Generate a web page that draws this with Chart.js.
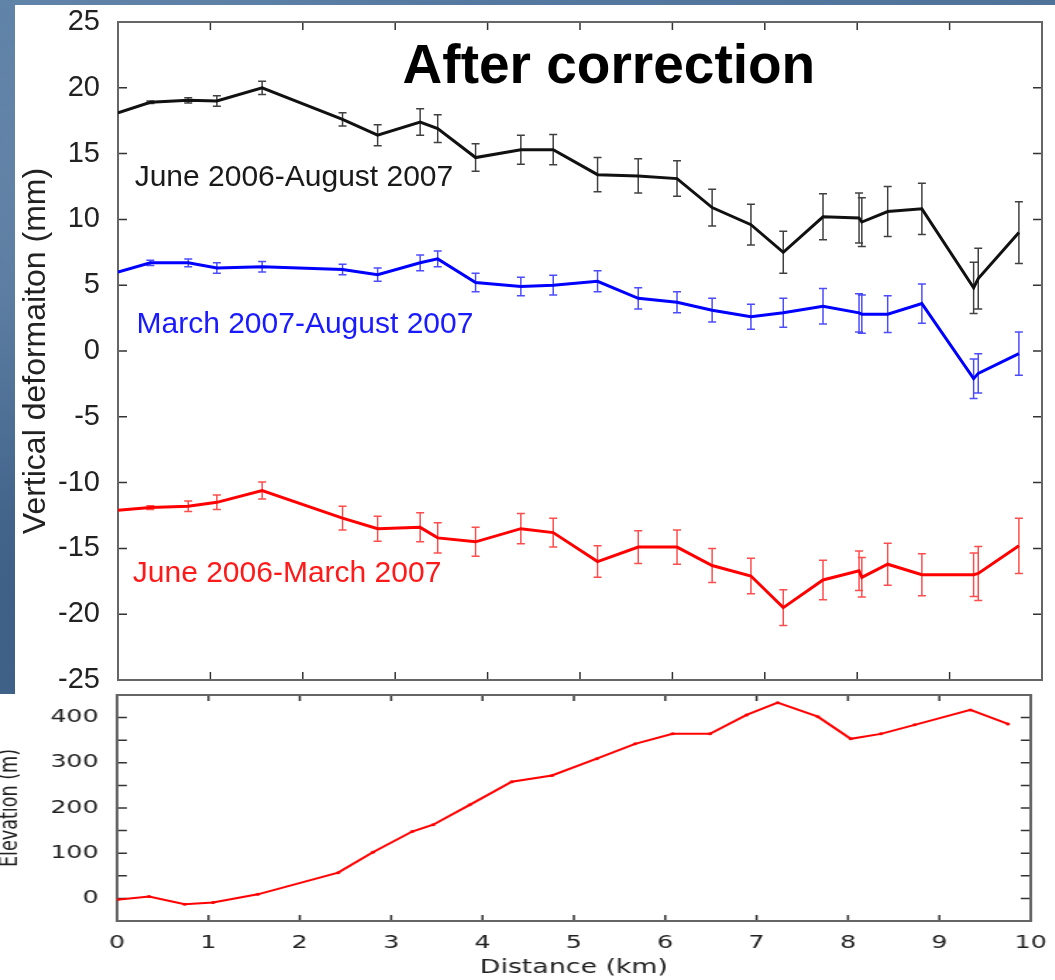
<!DOCTYPE html>
<html lang="en">
<head>
	<meta charset="UTF-8">
	<title>After correction</title>
	<style>
		body {
			margin: 0;
			width: 1055px;
			height: 980px;
			overflow: hidden;
			position: relative;
			background:
				radial-gradient(ellipse at 10% 20%, rgba(255,255,255,0.10), rgba(255,255,255,0) 30%),
				radial-gradient(ellipse at 5% 60%, rgba(20,40,80,0.18), rgba(20,40,80,0) 35%),
				linear-gradient(160deg, #5a7ea5 0%, #45698f 50%, #557aa0 100%);
		}
		.panel { position: absolute; background: #fff; }
		#panelTop { left: 15px; top: 5px; width: 1040px; height: 975px; }
		#panelBot { left: 0; top: 694px; width: 1055px; height: 286px; }
		#upper { position: absolute; left: 15px; top: 5px; }
		/* the elevation strip in the source is stretched sideways */
		#lowerWrap { position: absolute; left: 0; top: 690px; width: 748px; height: 290px; transform-origin: 0 0; transform: scaleX(1.41); }
	</style>
</head>
<body>
	<div class="panel" id="panelTop"></div>
	<div class="panel" id="panelBot"></div>
	<canvas id="upper" width="1040" height="689"></canvas>
	<div id="lowerWrap"><canvas id="lower" width="748" height="290"></canvas></div>

	<script src="https://cdn.jsdelivr.net/npm/chart.js@4.4.1/dist/chart.umd.min.js"></script>
	<script type="text/javascript">
	// distance along profile (km), shared by the three deformation series
	var distKm = [0, 0.35, 0.76, 1.07, 1.56, 2.43, 2.81, 3.27, 3.46, 3.87, 4.36, 4.71, 5.19, 5.63, 6.05, 6.43, 6.85, 7.2, 7.63, 8.02, 8.05, 8.33, 8.7, 9.26, 9.31, 9.75];

	// June 2006-August 2007 (mm)
	var junAug = [18.1, 18.9, 19.05, 19.0, 20.0, 17.6, 16.4, 17.4, 16.9, 14.7, 15.3, 15.3, 13.4, 13.3, 13.1, 10.9, 9.6, 7.5, 10.2, 10.1, 9.8, 10.6, 10.8, 4.8, 5.5, 9.0];
	var junAugErr = [0, 0.1, 0.2, 0.4, 0.5, 0.5, 0.8, 1.0, 1.05, 1.05, 1.1, 1.15, 1.3, 1.3, 1.35, 1.4, 1.55, 1.6, 1.75, 1.9, 1.85, 1.9, 1.95, 1.95, 2.3, 2.35];

	// March 2007-August 2007 (mm)
	var marAug = [6.0, 6.7, 6.7, 6.3, 6.4, 6.2, 5.8, 6.7, 7.0, 5.2, 4.9, 5.0, 5.3, 4.0, 3.7, 3.1, 2.6, 2.9, 3.4, 2.9, 2.8, 2.8, 3.6, -2.1, -1.7, -0.2];
	var marAugErr = [0, 0.2, 0.3, 0.4, 0.4, 0.4, 0.5, 0.6, 0.6, 0.7, 0.7, 0.75, 0.8, 0.8, 0.8, 0.9, 0.95, 1.1, 1.35, 1.45, 1.45, 1.4, 1.5, 1.5, 1.5, 1.65];

	// June 2006-March 2007 (mm)
	var junMar = [-12.1, -11.9, -11.8, -11.5, -10.6, -12.7, -13.5, -13.4, -14.2, -14.5, -13.5, -13.8, -16.0, -14.9, -14.9, -16.3, -17.1, -19.5, -17.4, -16.7, -17.2, -16.2, -17.0, -17.0, -16.9, -14.8];
	var junMarErr = [0, 0.15, 0.4, 0.55, 0.65, 0.9, 0.95, 1.1, 1.15, 1.1, 1.15, 1.1, 1.2, 1.25, 1.3, 1.3, 1.35, 1.35, 1.5, 1.5, 1.5, 1.6, 1.6, 1.65, 2.05, 2.1];

	// elevation profile
	var elevKm = [0, 0.35, 0.74, 1.05, 1.54, 2.42, 2.80, 3.23, 3.46, 3.86, 4.32, 4.76, 5.25, 5.67, 6.08, 6.49, 6.89, 7.23, 7.67, 8.03, 8.36, 8.73, 9.34, 9.75];
	var elevM = [-3, 4, -13, -9, 9, 57, 102, 148, 163, 207, 258, 272, 309, 342, 364, 364, 406, 433, 402, 353, 364, 384, 417, 386];

	// tick values and labels
	var deformTicks = [-25, -20, -15, -10, -5, 0, 5, 10, 15, 20, 25];
	var elevTicks = [-50, 0, 50, 100, 150, 200, 250, 300, 350, 400, 450];
	var elevLabels = [0, 100, 200, 300, 400];
	var distTicks = [0, 1, 2, 3, 4, 5, 6, 7, 8, 9, 10];

	// text written inside the upper plot, anchored in data units
	var notes = [
		{ text: 'After correction', x: 3.08, y: 20.36, color: '#000', font: 'bold 55px "Liberation Sans", Arial, sans-serif' },
		{ text: 'June 2006-August 2007', x: 0.18, y: 12.55, color: '#1a1a1a', font: '30px "Liberation Sans", Arial, sans-serif' },
		{ text: 'March 2007-August 2007', x: 0.2, y: 1.35, color: '#1a1aff', font: '30px "Liberation Sans", Arial, sans-serif' },
		{ text: 'June 2006-March 2007', x: 0.16, y: -17.55, color: '#ff1a1a', font: '30px "Liberation Sans", Arial, sans-serif' }
	];

	Chart.defaults.color = '#222';

	function asTicks(list) {
		return function (s) { s.ticks = list.map(function (v) { return { value: v }; }); };
	}

	// box round the plot + small ticks pointing inwards on all four sides
	var frameTicks = {
		id: 'frameTicks',
		beforeDatasetsDraw: function (chart, args, opts) {
			var ctx = chart.ctx, a = chart.chartArea, x = chart.scales.x, y = chart.scales.y;
			ctx.save();
			ctx.strokeStyle = '#333';
			ctx.lineWidth = 1.5;
			ctx.beginPath();
			x.ticks.forEach(function (t) {
				if (t.value <= x.min || t.value >= x.max) return;
				var px = x.getPixelForValue(t.value);
				ctx.moveTo(px, a.top); ctx.lineTo(px, a.top + opts.xLen);
				ctx.moveTo(px, a.bottom); ctx.lineTo(px, a.bottom - opts.xLen);
			});
			y.ticks.forEach(function (t) {
				if (t.value <= y.min || t.value >= y.max) return;
				var py = y.getPixelForValue(t.value);
				ctx.moveTo(a.left, py); ctx.lineTo(a.left + opts.yLen, py);
				ctx.moveTo(a.right, py); ctx.lineTo(a.right - opts.yLen, py);
			});
			ctx.stroke();
			ctx.strokeStyle = '#666';
			ctx.lineWidth = 2;
			ctx.strokeRect(a.left, a.top, a.right - a.left, a.bottom - a.top);
			ctx.restore();
		}
	};

	var errBars = {
		id: 'errBars',
		beforeDatasetsDraw: function (chart) {
			var ctx = chart.ctx, y = chart.scales.y;
			ctx.save();
			ctx.lineWidth = 1.5;
			chart.data.datasets.forEach(function (ds, i) {
				if (!ds.err) return;
				var meta = chart.getDatasetMeta(i);
				ctx.strokeStyle = ds.errColor;
				ctx.beginPath();
				meta.data.forEach(function (pt, j) {
					var e = ds.err[j];
					if (!e) return;
					var v = ds.data[j].y;
					var t = y.getPixelForValue(v + e), b = y.getPixelForValue(v - e);
					ctx.moveTo(pt.x, t); ctx.lineTo(pt.x, b);
					ctx.moveTo(pt.x - 4, t); ctx.lineTo(pt.x + 4, t);
					ctx.moveTo(pt.x - 4, b); ctx.lineTo(pt.x + 4, b);
				});
				ctx.stroke();
			});
			ctx.restore();
		}
	};

	var textMarks = {
		id: 'textMarks',
		afterDraw: function (chart) {
			if (chart.canvas.id !== 'upper') return;
			var ctx = chart.ctx, x = chart.scales.x, y = chart.scales.y;
			ctx.save();
			ctx.textAlign = 'left';
			ctx.textBaseline = 'alphabetic';
			notes.forEach(function (n) {
				ctx.font = n.font;
				ctx.fillStyle = n.color;
				ctx.fillText(n.text, x.getPixelForValue(n.x), y.getPixelForValue(n.y));
			});
			ctx.restore();
		}
	};

	function series(label, xs, vals, errs, color, errColor) {
		return {
			label: label,
			data: xs.map(function (d, i) { return { x: d, y: vals[i] }; }),
			err: errs,
			errColor: errColor,
			borderColor: color,
			backgroundColor: color,
			borderWidth: 3,
			pointRadius: 0,
			tension: 0,
			fill: false
		};
	}

	new Chart(document.getElementById('upper'), {
		type: 'line',
		data: {
			datasets: [
				series('June 2006-August 2007', distKm, junAug, junAugErr, '#111', 'rgba(0,0,0,0.75)'),
				series('March 2007-August 2007', distKm, marAug, marAugErr, '#0000ff', 'rgba(0,0,255,0.7)'),
				series('June 2006-March 2007', distKm, junMar, junMarErr, '#ff0000', 'rgba(255,0,0,0.7)')
			]
		},
		options: {
			responsive: false,
			animation: false,
			layout: { padding: { left: 0, top: 17, right: 13, bottom: 14 } },
			plugins: {
				legend: { display: false },
				tooltip: { enabled: false },
				frameTicks: { xLen: 8, yLen: 9 }
			},
			scales: {
				x: {
					type: 'linear', min: 0, max: 10, display: false,
					afterBuildTicks: asTicks(distTicks),
					afterFit: function (s) { s.paddingLeft = 0; s.paddingRight = 0; }
				},
				y: {
					min: deformTicks[0],
					max: deformTicks[deformTicks.length - 1],
					afterBuildTicks: asTicks(deformTicks),
					ticks: { padding: 18, color: '#222', font: { family: '"Liberation Sans", Arial, sans-serif', size: 29 } },
					grid: { display: false, drawTicks: false },
					border: { display: false },
					title: {
						display: true,
						text: 'Vertical deformaiton (mm)',
						color: '#222',
						padding: { top: 2, bottom: 0 },
						font: { family: '"Liberation Sans", Arial, sans-serif', size: 32, lineHeight: 1.2 }
					},
					afterFit: function (s) { s.width = 103; s.paddingTop = 0; s.paddingBottom = 0; }
				}
			}
		},
		plugins: [frameTicks, errBars, textMarks]
	});

	new Chart(document.getElementById('lower'), {
		type: 'line',
		data: {
			datasets: [{
				label: 'Elevation',
				data: elevKm.map(function (d, i) { return { x: d, y: elevM[i] }; }),
				borderColor: '#ff0000',
				backgroundColor: '#ff0000',
				borderWidth: 2,
				pointRadius: 1.5,
				pointBorderWidth: 0,
				tension: 0,
				fill: false
			}]
		},
		options: {
			responsive: false,
			animation: false,
			layout: { padding: { left: 0, top: 5, right: 17, bottom: 0 } },
			plugins: {
				legend: { display: false },
				tooltip: { enabled: false },
				frameTicks: { xLen: 6, yLen: 7 }
			},
			scales: {
				x: {
					type: 'linear', min: 0, max: 10,
					afterBuildTicks: asTicks(distTicks),
					ticks: { padding: 12, color: '#222', maxRotation: 0, autoSkip: false, font: { family: '"DejaVu Sans", sans-serif', size: 18 } },
					grid: { display: false, drawTicks: false },
					border: { display: false },
					title: {
						display: true,
						text: 'Distance (km)',
						color: '#222',
						padding: { top: 0, bottom: 1 },
						font: { family: '"DejaVu Sans", sans-serif', size: 19, lineHeight: 1.2 }
					},
					afterFit: function (s) { s.height = 59; s.paddingLeft = 0; s.paddingRight = 0; }
				},
				y: {
					min: elevTicks[0],
					max: elevTicks[elevTicks.length - 1],
					afterBuildTicks: asTicks(elevTicks),
					ticks: {
						padding: 13, color: '#222', autoSkip: false,
						font: { family: '"DejaVu Sans", sans-serif', size: 18 },
						callback: function (v) { return elevLabels.indexOf(v) >= 0 ? String(v) : ''; }
					},
					grid: { display: false, drawTicks: false },
					border: { display: false },
					title: {
						display: true,
						text: 'Elevation (m)',
						color: '#222',
						padding: { top: 0, bottom: 0 },
						font: { family: '"DejaVu Sans", sans-serif', size: 17.6, lineHeight: 0.8 }
					},
					afterFit: function (s) { s.width = 83; s.paddingTop = 0; s.paddingBottom = 0; }
				}
			}
		},
		plugins: [frameTicks]
	});
	</script>
</body>
</html>
